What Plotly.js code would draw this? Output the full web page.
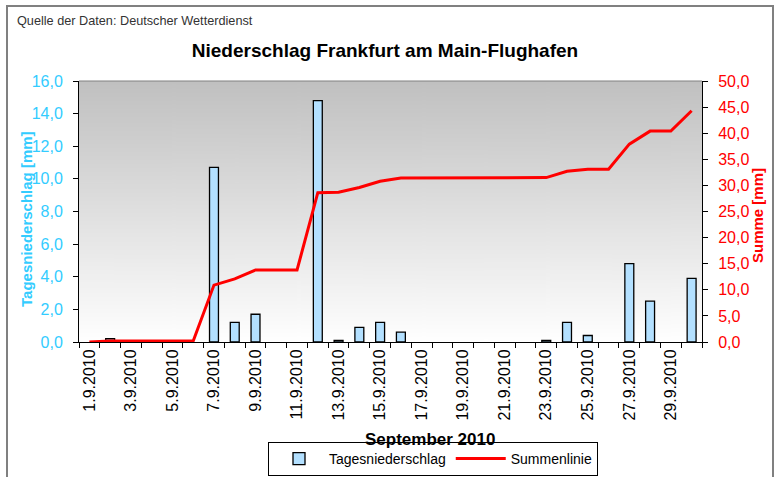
<!DOCTYPE html>
<html>
<head>
<meta charset="utf-8">
<script src="https://cdn.plot.ly/plotly-3.0.1.min.js"></script>
<style>
html,body{margin:0;padding:0;background:#fff;}
#chart{width:779px;height:477px;}
</style>
</head>
<body>
<div id="chart"></div>
<script>
// ---- data ----
var days = [1,2,3,4,5,6,7,8,9,10,11,12,13,14,15,16,17,18,19,20,21,22,23,24,25,26,27,28,29,30];
var dateLabels = ["1.9.2010","2.9.2010","3.9.2010","4.9.2010","5.9.2010","6.9.2010","7.9.2010","8.9.2010","9.9.2010","10.9.2010",
  "11.9.2010","12.9.2010","13.9.2010","14.9.2010","15.9.2010","16.9.2010","17.9.2010","18.9.2010","19.9.2010","20.9.2010",
  "21.9.2010","22.9.2010","23.9.2010","24.9.2010","25.9.2010","26.9.2010","27.9.2010","28.9.2010","29.9.2010","30.9.2010"];
var dailyRain = [0,0.2,0,0,0,0,10.7,1.2,1.7,0,0,14.8,0.1,0.9,1.2,0.6,0,0,0,0,0,0,0.1,1.2,0.4,0,4.8,2.5,0,3.9];
var cumulative = [0,0.2,0.2,0.2,0.2,0.2,10.9,12.1,13.8,13.8,13.8,28.6,28.7,29.6,30.8,31.4,31.4,31.4,31.4,31.4,31.4,31.4,31.5,32.7,33.1,33.1,37.9,40.4,40.4,44.3];
var shownLabelDays = [1,3,5,7,9,11,13,15,17,19,21,23,25,27,29];

// ---- background gradient image ----
var cv = document.createElement('canvas');
cv.width = 10; cv.height = 256;
var ctx = cv.getContext('2d');
var g = ctx.createLinearGradient(0,0,0,256);
g.addColorStop(0,'#C0C0C0');
g.addColorStop(1,'#FFFFFF');
ctx.fillStyle = g; ctx.fillRect(0,0,10,256);
var bgURL = cv.toDataURL('image/png');

var FONT = 'Liberation Sans, Arial, sans-serif';
var CYAN = '#33CCFF';
var RED = '#FF0000';

var tickText = shownLabelDays.map(function(d){ return dateLabels[days.indexOf(d)]; });
var boundaries = [];
for (var i = 0; i <= days.length; i++) boundaries.push(days[0] - 0.5 + i);
// days without rain draw no bar
var barValues = dailyRain.map(function(v){ return v === 0 ? null : v; });

var traces = [
  {
    type: 'bar', name: 'Tagesniederschlag',
    x: days, y: barValues, yaxis: 'y',
    width: 0.43,
    marker: {color: '#B3E0FF', line: {color: '#000000', width: 1.3}},
    hoverinfo: 'skip'
  },
  {
    type: 'scatter', mode: 'lines', name: 'Summenlinie',
    x: days, y: cumulative, yaxis: 'y2',
    line: {color: RED, width: 3},
    hoverinfo: 'skip'
  }
];

function px2x(p){ return (p - 79) / 623; }
function px2y(p){ return (342 - p) / 261; }

var layout = {
  width: 779, height: 477,
  margin: {l: 79, r: 77, t: 81, b: 135, pad: 0, autoexpand: false},
  paper_bgcolor: '#FFFFFF',
  plot_bgcolor: 'rgba(0,0,0,0)',
  separators: ',.',
  font: {family: FONT, size: 14, color: '#000'},
  showlegend: true,
  title: {
    text: 'Niederschlag Frankfurt am Main-Flughafen',
    font: {family: FONT, size: 19, color: '#000', weight: 'bold'},
    xref: 'container', yref: 'container',
    x: 385/779, y: 1 - 50/477, xanchor: 'center', yanchor: 'middle'
  },
  xaxis: {
    range: [0.5, 30.5],
    tickmode: 'array', tickvals: shownLabelDays, ticktext: tickText,
    tickangle: -90,
    ticks: '',
    ticklabelstandoff: 0,
    tickfont: {family: FONT, size: 16, color: '#000'},
    showline: true, linecolor: '#000', linewidth: 1,
    showgrid: false, zeroline: false,
    minor: {tickmode: 'array', tickvals: boundaries, ticks: 'outside', ticklen: 5, tickcolor: '#000', tickwidth: 1, showgrid: false},
    fixedrange: true
  },
  yaxis: {
    range: [0, 16], dtick: 2, tick0: 0, tickformat: '.1f',
    ticks: 'outside', ticklen: 5, tickcolor: '#000',
    ticklabelstandoff: 7,
    tickfont: {family: FONT, size: 16, color: CYAN},
    showline: true, linecolor: '#000', linewidth: 1,
    showgrid: false, zeroline: false,
    fixedrange: true
  },
  yaxis2: {
    range: [0, 50], dtick: 5, tick0: 0, tickformat: '.1f',
    overlaying: 'y', side: 'right',
    ticks: 'outside', ticklen: 5, tickcolor: '#000',
    ticklabelstandoff: 7,
    tickfont: {family: FONT, size: 16, color: RED},
    showline: true, linecolor: '#000', linewidth: 1,
    showgrid: false, zeroline: false,
    fixedrange: true
  },
  legend: {
    orientation: 'h',
    xref: 'container', yref: 'container',
    x: 433/779, xanchor: 'center',
    y: 1 - 476/477, yanchor: 'bottom',
    bordercolor: '#000', borderwidth: 1, bgcolor: '#FFFFFF',
    font: {family: FONT, size: 14, color: '#000'},
    itemwidth: 50
  },
  images: [{
    source: bgURL, xref: 'paper', yref: 'paper',
    x: 0, y: 1, sizex: 1, sizey: 1, sizing: 'stretch',
    xanchor: 'left', yanchor: 'top', layer: 'below'
  }],
  annotations: [
    {text: 'Quelle der Daten: Deutscher Wetterdienst', xref: 'paper', yref: 'paper',
     x: px2x(15), y: px2y(21), xanchor: 'left', yanchor: 'middle', showarrow: false,
     font: {family: FONT, size: 12.7, color: '#333'}},
    {text: 'September 2010', xref: 'paper', yref: 'paper',
     x: px2x(430), y: px2y(439), xanchor: 'center', yanchor: 'middle', showarrow: false,
     font: {family: FONT, size: 17, color: '#000', weight: 'bold'}},
    {text: 'Tagesniederschlag [mm]', xref: 'paper', yref: 'paper', textangle: -90,
     x: px2x(26), y: px2y(219), xanchor: 'center', yanchor: 'middle', showarrow: false,
     font: {family: FONT, size: 15, color: CYAN, weight: 'bold'}},
    {text: 'Summe [mm]', xref: 'paper', yref: 'paper', textangle: -90,
     x: px2x(758), y: px2y(216), xanchor: 'center', yanchor: 'middle', showarrow: false,
     font: {family: FONT, size: 15, color: RED, weight: 'bold'}}
  ],
  shapes: [
    {type: 'rect', xref: 'paper', yref: 'paper', x0: px2x(7), x1: px2x(773), y0: px2y(490), y1: px2y(6),
     line: {color: '#808080', width: 2}, fillcolor: 'rgba(0,0,0,0)', layer: 'below'},
    {type: 'line', xref: 'paper', yref: 'paper', x0: 0, x1: 1, y0: 1, y1: 1,
     line: {color: '#808080', width: 1}}
  ]
};

Plotly.newPlot('chart', traces, layout, {displayModeBar: false, staticPlot: true});
</script>
</body>
</html>
